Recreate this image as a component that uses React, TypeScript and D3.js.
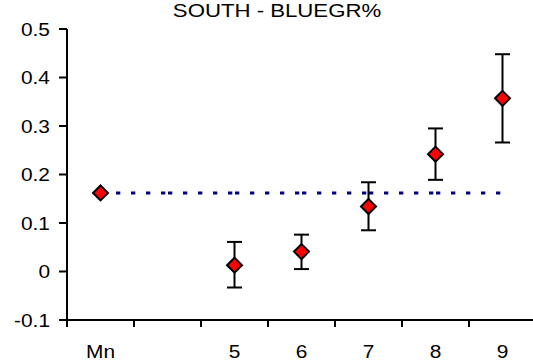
import React from "react";
import * as d3 from "d3";

const categories = ["Mn", "", "5", "6", "7", "8", "9"];
const pointCats = ["Mn", "5", "6", "7", "8", "9"];
const pointValues = [0.162, 0.013, 0.041, 0.134, 0.242, 0.357];
const errLow = [null, -0.033, 0.005, 0.085, 0.189, 0.266];
const errHigh = [null, 0.061, 0.076, 0.184, 0.295, 0.448];
const meanValue = 0.162;
const yTicks = [-0.1, 0, 0.1, 0.2, 0.3, 0.4, 0.5];
const title = "SOUTH - BLUEGR%";

export default function App() {
  const W = 533, H = 363;
  const left = 67, right = 536, top = 29, bottom = 320;
  const x = d3.scaleBand<string>().domain(categories.map((c, i) => String(i))).range([left, right]);
  const xc = (cat: string) => {
    const i = categories.indexOf(cat);
    return (x(String(i)) as number) + x.bandwidth() / 2;
  };
  const y = d3.scaleLinear().domain([-0.1, 0.5]).range([bottom, top]);
  const fmt = (v: number) => (Math.abs(v) < 1e-9 ? "0" : String(Math.round(v * 10) / 10));
  const font = "Liberation Sans, Arial, sans-serif";
  const diamond = (cx: number, cy: number, r: number) =>
    `M${cx},${cy - r}L${cx + r},${cy}L${cx},${cy + r}L${cx - r},${cy}Z`;
  const boundaries = d3.range(categories.length).map((i) => x(String(i)) as number);
  const fs = 18.5;

  return (
    <svg width={W} height={H} style={{ position: "absolute", left: 0, top: 0 }}>
      <rect width={W} height={H} fill="#fff" />
      <text transform={`translate(277,17) scale(1.2,1)`} textAnchor="middle" fontFamily={font} fontSize={fs}>{title}</text>
      {/* mean line, drawn per category segment */}
      {categories.slice(0, -1).map((c, i) => (
        <line key={"m" + i}
          x1={(x(String(i)) as number) + x.bandwidth() / 2}
          x2={(x(String(i + 1)) as number) + x.bandwidth() / 2}
          y1={y(meanValue)} y2={y(meanValue)}
          stroke="#000080" strokeWidth={3} strokeDasharray="4.3,10.7" strokeDashoffset={-0.5} />
      ))}
      {/* axes */}
      <line x1={left} x2={left} y1={top} y2={bottom} stroke="#000" strokeWidth={2} />
      <line x1={left - 1} x2={W} y1={bottom} y2={bottom} stroke="#000" strokeWidth={2} />
      {yTicks.map((t) => (
        <g key={"y" + t}>
          <line x1={left - 8} x2={left} y1={y(t)} y2={y(t)} stroke="#000" strokeWidth={2} />
          <text transform={`translate(50,${y(t) + 6.5}) scale(1.13,1)`} textAnchor="end" fontFamily={font} fontSize={fs}>{fmt(t)}</text>
        </g>
      ))}
      {boundaries.map((b, i) => (
        <line key={"xt" + i} x1={b} x2={b} y1={bottom} y2={bottom + 7} stroke="#000" strokeWidth={2} />
      ))}
      {categories.map((c, i) => (
        <text key={"xl" + i} transform={`translate(${(x(String(i)) as number) + x.bandwidth() / 2},358) scale(1.13,1)`}
          textAnchor="middle" fontFamily={font} fontSize={fs}>{c}</text>
      ))}
      {/* error bars */}
      {pointCats.map((c, i) => {
        const lo = errLow[i], hi = errHigh[i];
        if (lo == null || hi == null) return null;
        const cx = xc(c);
        return (
          <g key={"e" + i} stroke="#000" strokeWidth={2}>
            <line x1={cx} x2={cx} y1={y(lo)} y2={y(hi)} />
            <line x1={cx - 7.5} x2={cx + 7.5} y1={y(lo)} y2={y(lo)} />
            <line x1={cx - 7.5} x2={cx + 7.5} y1={y(hi)} y2={y(hi)} />
          </g>
        );
      })}
      {pointCats.map((c, i) => (
        <path key={"p" + i} d={diamond(xc(c), y(pointValues[i]), 7.5)} fill="#ff0000" stroke="#000" strokeWidth={2} />
      ))}
    </svg>
  );
}
